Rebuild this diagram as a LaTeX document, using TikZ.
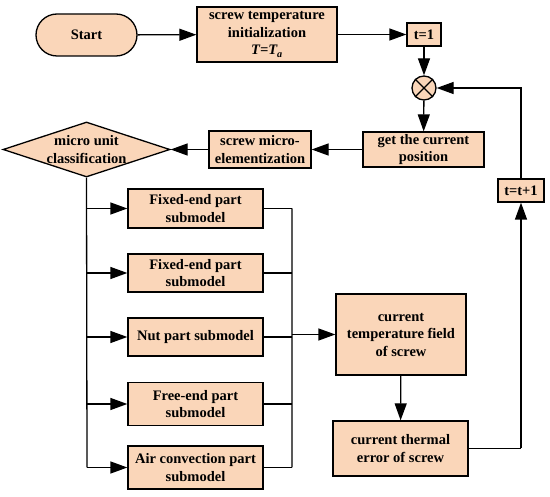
\documentclass[tikz,border=0pt]{standalone}
\usepackage{fontspec}
\setmainfont{Liberation Serif}
\usetikzlibrary{arrows.meta,shapes.geometric}
\definecolor{peach}{RGB}{250,214,185}
\begin{document}
\begin{tikzpicture}[x=1pt,y=-1pt,font=\fontsize{14.5}{17.5}\selectfont\bfseries,
		box/.style={draw,line width=1.3pt,fill=peach,align=center,inner sep=0pt},
		line/.style={line width=1.3pt},
		arr/.style={line width=1.3pt,-{Triangle[length=17pt,width=12pt]}}]
	\useasboundingbox (0,0) rectangle (550,497);
	% top row
	\node[box,rounded corners=21pt,minimum width=101pt,minimum height=42pt] (start) at (86.5,35) {Start};
	\node[box,minimum width=140pt,minimum height=55pt] (init) at (267,34.5) {screw temperature\\initialization\\{\itshape T=T\textsubscript{a}}};
	\node[box,minimum width=34pt,minimum height=23pt] (t1) at (424,34.5) {t=1};
	\node[circle,draw,line width=1.3pt,fill=peach,minimum size=24pt,inner sep=0pt] (mult) at (424,88) {};
	\draw[line] (mult.45)--(mult.225) (mult.135)--(mult.315);
	\node[box,minimum width=121pt,minimum height=35pt] (pos) at (423.5,149.5) {get the current\\position};
	\node[box,minimum width=102pt,minimum height=37pt] (micro) at (260,149.5) {screw micro-\\elementization};
	\node[diamond,draw,line width=1.3pt,fill=peach,minimum width=167pt,minimum height=55pt,inner sep=0pt] (cls) at (86.5,149.5) {};
	\node[align=center] (clstxt) at (cls) {micro unit\\classification};
	\node[box,minimum width=46pt,minimum height=23pt] (tt1) at (521,190.5) {t=t+1};
	% submodels
	\foreach \n/\y/\h/\t in {s1/208.5/39/{Fixed-end part\\submodel}, s2/273/38/{Fixed-end part\\submodel},
		s3/337/38/{Nut part submodel}, s4/404/43/{Free-end part\\submodel}, s5/467.5/43/{Air convection part\\submodel}}{
		\node[box,minimum width=135pt,minimum height=\h pt] (\n) at (195.5,\y) {\t};
		\coordinate (\n_l) at (87,\y);
		\coordinate (\n_r) at (292,\y);
	}
	\node[box,minimum width=130pt,minimum height=81pt] (field) at (401,334.5) {current\\temperature field\\of screw};
	\node[box,minimum width=135pt,minimum height=55pt] (err) at (400.5,448.5) {current thermal\\error of screw};
	\coordinate (bus) at (292,334.5);
	\coordinate (up) at (521,448.5);
	\coordinate (back) at (521,88);
	% connectors
	\draw[arr] (start)--(init);
	\draw[arr] (init)--(t1);
	\draw[arr] (t1)--(mult);
	\draw[arr] (mult)--(pos);
	\draw[arr] (pos)--(micro);
	\draw[arr] (micro)--(cls);
	\draw[line] (cls.south)--(s5_l) (s1_r)--(s5_r);
	\foreach \n in {s1,s2,s3,s4,s5}{
		\draw[arr] (\n_l)--(\n);
		\draw[line] (\n)--(\n_r);
	}
	\draw[arr] (bus)--(field);
	\draw[arr] (field)--(err);
	\draw[line] (err.east)--(up);
	\draw[arr] (up)--(tt1);
	\draw[arr] (tt1)--(back)--(mult);
\end{tikzpicture}
\end{document}
